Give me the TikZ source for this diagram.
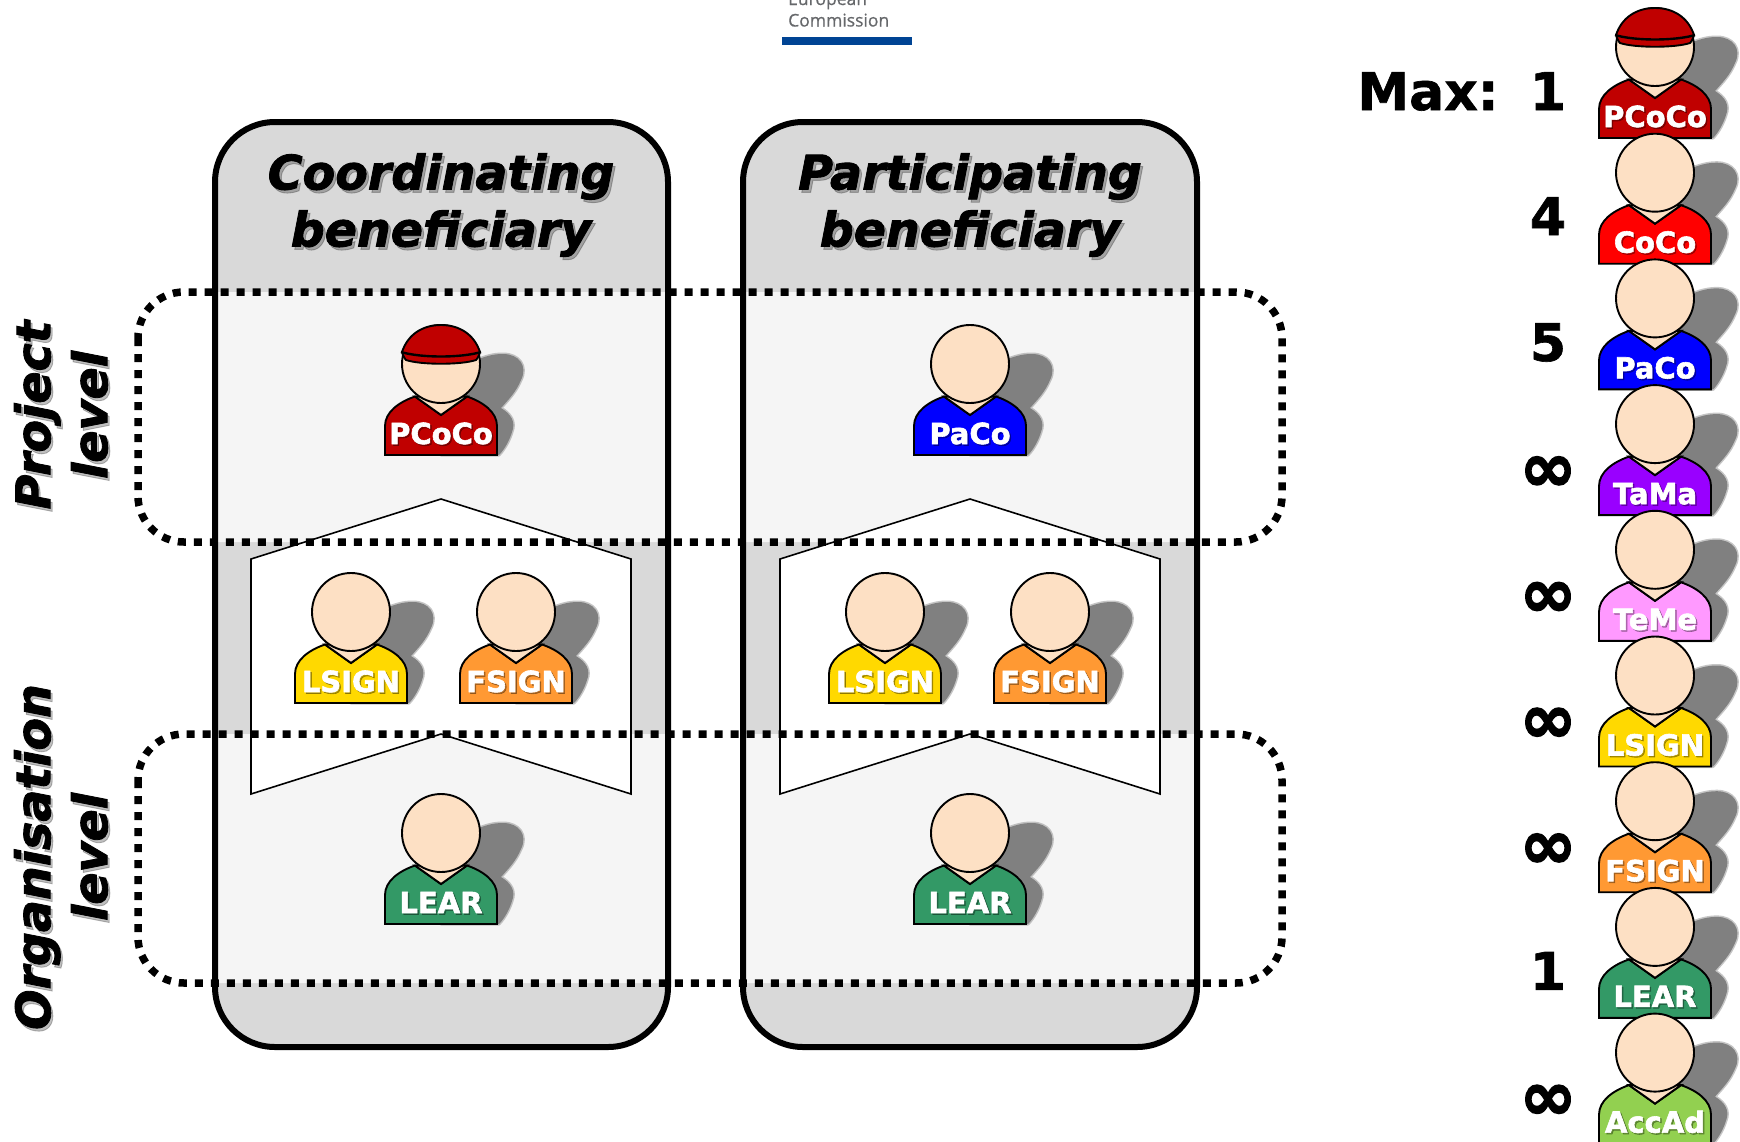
\documentclass[tikz,border=0pt]{standalone}
\usepackage{fontspec}
\setmainfont{DejaVu Sans}
\newfontfamily\logofont{Open Sans}
\tikzset{
  panelfill/.style={fill=panelgray,rounded corners=60pt},
  panelline/.style={draw=black,line width=6pt,rounded corners=60pt},
  levelfill/.style={fill=white,fill opacity=.75,rounded corners=46pt},
  levelline/.style={draw=black,line width=7.5pt,dash pattern=on 8pt off 8pt,rounded corners=46pt},
  chev/.style={draw=black,fill=white,line width=1.6pt,line join=miter},
  outl/.style={draw=black,line width=1.9pt},
  titletext/.style={font=\bfseries\itshape\addfontfeature{FakeBold=1.8}\fontsize{47.5}{57}\selectfont,align=center,inner sep=0pt,text=black},
  titleshadow/.style={titletext,text=black,text opacity=.25},
  lbl/.style={font=\bfseries\addfontfeature{FakeBold=2}\fontsize{29}{29}\selectfont,inner sep=0pt,anchor=base,text=white},
  lblshadow/.style={lbl,text=black,text opacity=.3},
  num/.style={font=\bfseries\addfontfeature{FakeBold=1.2}\fontsize{52}{52}\selectfont,inner sep=0pt,anchor=base,text=black},
  infnum/.style={font=\bfseries\addfontfeature{FakeBold=2.5}\fontsize{68}{68}\selectfont,inner sep=0pt,anchor=base,text=black},
  logotext/.style={font=\logofont\addfontfeature{FakeBold=.6}\fontsize{17.5}{17.5}\selectfont,text=logogray,inner sep=0pt,anchor=base west},
}
\definecolor{panelgray}{HTML}{D9D9D9}
\definecolor{skin}{HTML}{FDE0C4}
\definecolor{shadowgray}{HTML}{808080}
\definecolor{cPCoCo}{HTML}{C00000}
\definecolor{cCoCo}{HTML}{FF0000}
\definecolor{cPaCo}{HTML}{0000FF}
\definecolor{cTaMa}{HTML}{9900FF}
\definecolor{cTeMe}{HTML}{FF99FF}
\definecolor{cLSIGN}{HTML}{FFD900}
\definecolor{cFSIGN}{HTML}{FF9933}
\definecolor{cLEAR}{HTML}{339966}
\definecolor{cAccAd}{HTML}{92D050}
\definecolor{logogray}{HTML}{66686B}
\definecolor{logoblue}{HTML}{004494}
% name, x, y, colour, label
\newcommand\personfig[5]{%
  \begin{scope}[shift={(#2,#3)}]
    \path[fill=shadowgray,draw=shadowgray,draw opacity=.45,line width=3pt,line join=round]
      (30,-2) .. controls (45,-8) and (52,-10) .. (62,-10)
      .. controls (78,-10) and (87,2) .. (80,16)
      .. controls (75,28) and (68,35) .. (60,44)
      .. controls (70,50) and (75,58) .. (71,68)
      .. controls (69,75) and (64,85) .. (58,91) -- (0,91) -- cycle;
    \path[outl,fill=#4] (-56,91) -- (-56,62)
      .. controls (-56,48) and (-42,38) .. (-26,32.5) -- (0,51) -- (26,32.5)
      .. controls (42,38) and (56,48) .. (56,62) -- (56,91) -- cycle;
    \path[outl,fill=skin] (-26,32.5) -- (0,51) -- (26,32.5) -- cycle;
    \node[outl,fill=skin,circle,minimum size=78pt,inner sep=0pt] (#1head) at (0,0) {};
    \node[lblshadow] (#1shadow) at (1.5,81.5) {#5};
    \node[lbl] (#1label) at (0,80) {#5};
  \end{scope}}
\newcommand\capfig[2]{%
  \begin{scope}[shift={(#1,#2)}]
    \path[outl,fill=cPCoCo] (-39,-12) .. controls (-33,-30) and (-18,-39) .. (0,-39)
      .. controls (18,-39) and (33,-30) .. (39,-12)
      .. controls (38,-8) and (36,-5) .. (35,-4)
      .. controls (20,1) and (-20,1) .. (-35,-4)
      .. controls (-36,-5) and (-38,-8) .. (-39,-12) -- cycle;
    \draw[black,line width=2.4pt] (-40,-12) .. controls (-20,-6) and (20,-6) .. (40,-12);
  \end{scope}}
\begin{document}
\begin{tikzpicture}[x=1pt,y=-1pt]
\useasboundingbox (0,0) rectangle (1740,1141);
% panels
\path[panelfill] (215,122) rectangle (668,1047);
\path[panelfill] (743,122) rectangle (1197,1047);
% level bands
\path[levelfill] (138,292) rectangle (1282,542);
\path[levelfill] (138,734) rectangle (1282,983);
\path[panelline] (215,122) rectangle (668,1047);
\path[panelline] (743,122) rectangle (1197,1047);
% chevrons
\path[chev] (251,559) -- (441,499) -- (631,559) -- (631,794) -- (441,734) -- (251,794) -- cycle;
\path[chev] (780,559) -- (970,499) -- (1160,559) -- (1160,794) -- (970,734) -- (780,794) -- cycle;
% level outlines
\path[levelline] (138,292) rectangle (1282,542);
\path[levelline] (138,734) rectangle (1282,983);
% titles
\node[titleshadow] (coordshadow) at (443.5,208) {Coordinating\\beneficiary};
\node[titletext] (coord) at (441,205) {Coordinating\\beneficiary};
\node[titleshadow] (partshadow) at (972.5,208) {Participating\\beneficiary};
\node[titletext] (part) at (970,205) {Participating\\beneficiary};
\node[titleshadow,rotate=90] (projshadow) at (63,418) {Project\\level};
\node[titletext,rotate=90] (proj) at (61,415) {Project\\level};
\node[titleshadow,rotate=90] (orgshadow) at (63,860) {Organisation\\level};
\node[titletext,rotate=90] (org) at (61,857) {Organisation\\level};
% people in panels
\personfig{a}{441}{364}{cPCoCo}{PCoCo}\capfig{441}{364}
\personfig{b}{970}{364}{cPaCo}{PaCo}
\personfig{c}{351}{612}{cLSIGN}{LSIGN}
\personfig{d}{516}{612}{cFSIGN}{FSIGN}
\personfig{e}{885}{612}{cLSIGN}{LSIGN}
\personfig{f}{1050}{612}{cFSIGN}{FSIGN}
\personfig{g}{441}{833}{cLEAR}{LEAR}
\personfig{h}{970}{833}{cLEAR}{LEAR}
% right column
\personfig{r1}{1655}{47}{cPCoCo}{PCoCo}\capfig{1655}{47}
\personfig{r2}{1655}{172.7}{cCoCo}{CoCo}
\personfig{r3}{1655}{298.4}{cPaCo}{PaCo}
\personfig{r4}{1655}{424.1}{cTaMa}{TaMa}
\personfig{r5}{1655}{549.8}{cTeMe}{TeMe}
\personfig{r6}{1655}{675.5}{cLSIGN}{LSIGN}
\personfig{r7}{1655}{801.2}{cFSIGN}{FSIGN}
\personfig{r8}{1655}{926.9}{cLEAR}{LEAR}
\personfig{r9}{1655}{1052.6}{cAccAd}{AccAd}
% numbers
\node[num] (max) at (1428,110) {Max:};
\node[num] (n1) at (1548,110) {1};
\node[num] (n2) at (1548,235) {4};
\node[num] (n3) at (1548,361) {5};
\node[infnum] (n4) at (1548,491) {∞};
\node[infnum] (n5) at (1548,616.7) {∞};
\node[infnum] (n6) at (1548,742.4) {∞};
\node[infnum] (n7) at (1548,868.1) {∞};
\node[num] (n8) at (1548,989.9) {1};
\node[infnum] (n9) at (1548,1119.5) {∞};
% logo
\node[logotext] (logoa) at (788,5) {European};
\node[logotext] (logob) at (788,26.5) {Commission};
\path[fill=logoblue] (782,37) rectangle (912,44.5);
\end{tikzpicture}
\end{document}
